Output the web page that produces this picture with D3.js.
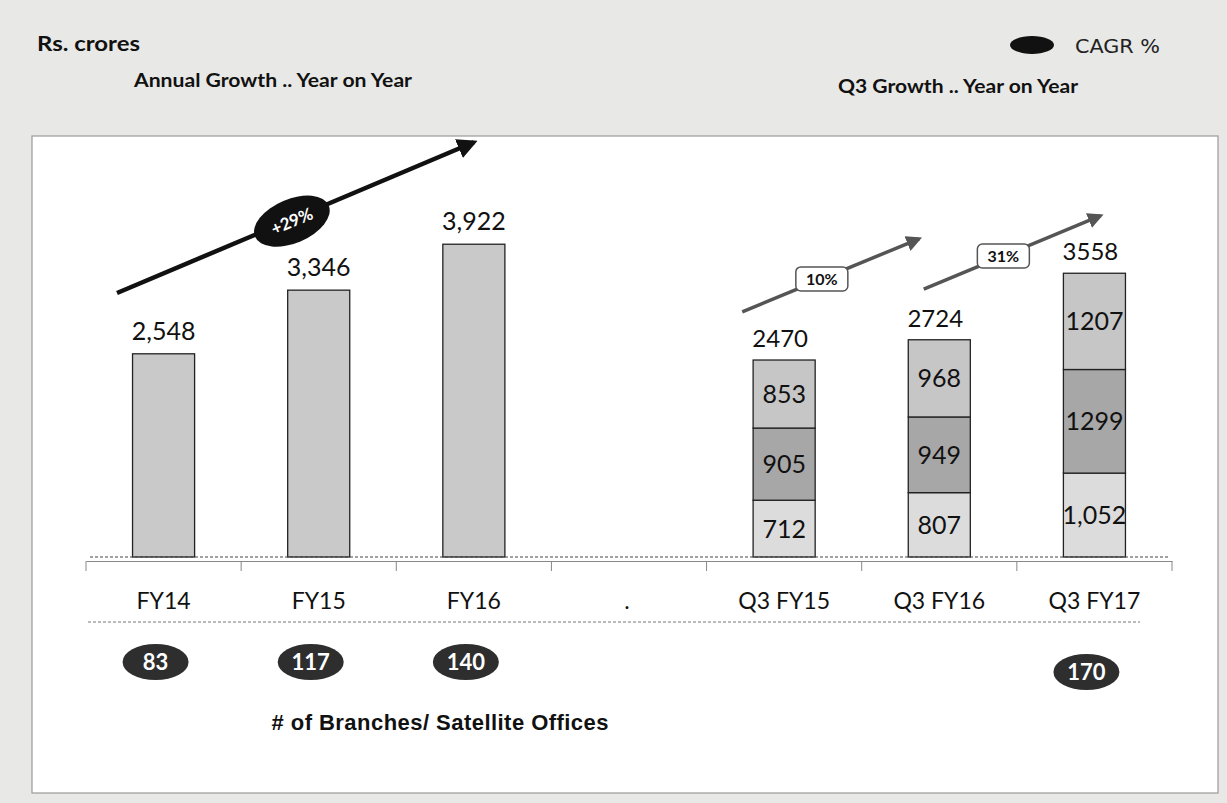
<!DOCTYPE html>
<html>
<head>
<meta charset="utf-8">
<script src="https://cdn.jsdelivr.net/npm/d3@7"></script>
<style>
  body { margin: 0; background: #e8e8e6; }
  svg { display: block; }
  .num { font-family: Lato, "Open Sans", sans-serif; fill: #111; }
  .head { font-family: Lato, "DejaVu Sans", sans-serif; font-weight: bold; fill: #111; }
</style>
</head>
<body>
<div id="chart"></div>
<script>
// categories on the x axis ("." is the empty spacer column)
const categories = ["FY14", "FY15", "FY16", ".", "Q3 FY15", "Q3 FY16", "Q3 FY17"];
// annual totals, Rs. crores
const annualCats = ["FY14", "FY15", "FY16"];
const annualValues = [2548, 3346, 3922];
// quarterly stacks, bottom -> top
const q3Cats = ["Q3 FY15", "Q3 FY16", "Q3 FY17"];
const q3Bottom = [712, 807, 1052];
const q3Middle = [905, 949, 1299];
const q3Top = [853, 968, 1207];
const q3Totals = [2470, 2724, 3558];
const q3BottomLabels = ["712", "807", "1,052"];
// number of branches / satellite offices
const branchCats = ["FY14", "FY15", "FY16", "Q3 FY17"];
const branchValues = [83, 117, 140, 170];
// growth arrows: start/end given as category + fraction of band + value
const growthArrows = [
  { label: "+29%", from: ["FY14", 0.2, 3310], to: ["FY16", 0.5, 5200], kind: "big" },
  { label: "10%", from: ["Q3 FY15", 0.23, 3075], to: ["Q3 FY16", 0.37, 3990], kind: "small" },
  { label: "31%", from: ["Q3 FY16", 0.4, 3360], to: ["Q3 FY17", 0.54, 4280], kind: "small" }
];

const W = 1227, H = 803;
const svg = d3.select("#chart").append("svg").attr("width", W).attr("height", H);

// page background and white panel
svg.append("rect").attr("width", W).attr("height", H).attr("fill", "#e8e8e6");
svg.append("rect").attr("x", 32).attr("y", 136).attr("width", 1186).attr("height", 657)
  .attr("fill", "#fff").attr("stroke", "#9a9a9a").attr("stroke-width", 1.2);

// headings
svg.append("text").attr("class", "head").attr("x", 37).attr("y", 51)
  .attr("textLength", 103).attr("lengthAdjust", "spacingAndGlyphs")
  .style("font-size", "21px").text("Rs. crores");
svg.append("text").attr("class", "head").attr("x", 134).attr("y", 87)
  .attr("textLength", 278).attr("lengthAdjust", "spacingAndGlyphs")
  .style("font-size", "19px").text("Annual Growth .. Year on Year");
svg.append("text").attr("class", "head").attr("x", 838).attr("y", 93)
  .attr("textLength", 240).attr("lengthAdjust", "spacingAndGlyphs")
  .style("font-size", "19px").text("Q3 Growth .. Year on Year");
svg.append("ellipse").attr("cx", 1032).attr("cy", 45).attr("rx", 22).attr("ry", 9).attr("fill", "#111");
svg.append("text").attr("x", 1075).attr("y", 53)
  .attr("textLength", 85).attr("lengthAdjust", "spacingAndGlyphs")
  .style("font-family", "'DejaVu Sans', sans-serif").style("font-size", "19px").attr("fill", "#222")
  .text("CAGR %");

const x = d3.scaleBand().domain(categories).range([86, 1172]);
const y = d3.scaleLinear().domain([0, 4000]).range([557, 238]);
const bw = x.bandwidth();
const barW = bw * 0.4;
const barX = c => x(c) + (bw - barW) / 2;
const mid = c => x(c) + bw / 2;

// x axis with ticks between categories
const axis = svg.append("g").attr("transform", "translate(0,561)")
  .call(d3.axisBottom(x).tickSize(0).tickFormat(""));
axis.select(".domain").attr("stroke", "#888").attr("stroke-width", 1);
axis.selectAll(".bnd").data(categories.concat(["end"])).join("line")
  .attr("x1", (d, i) => x.range()[0] + i * x.step()).attr("x2", (d, i) => x.range()[0] + i * x.step())
  .attr("y1", 0).attr("y2", 10).attr("stroke", "#888");

// annual bars
svg.append("g").selectAll("rect").data(annualCats).join("rect")
  .attr("x", d => barX(d)).attr("width", barW)
  .attr("y", (d, i) => y(annualValues[i])).attr("height", (d, i) => y(0) - y(annualValues[i]))
  .attr("fill", "#c9c9c9").attr("stroke", "#222").attr("stroke-width", 1.3);
svg.append("g").selectAll("text").data(annualCats).join("text").attr("class", "num")
  .attr("x", d => mid(d)).attr("y", (d, i) => y(annualValues[i]) - 14)
  .attr("text-anchor", "middle").style("font-size", "25px")
  .text((d, i) => d3.format(",")(annualValues[i]));

// stacked quarterly bars
const stackRows = q3Cats.map((c, i) => ({ cat: c, bottom: q3Bottom[i], middle: q3Middle[i], top: q3Top[i] }));
const keys = ["bottom", "middle", "top"];
const fills = { bottom: "#dcdcdc", middle: "#a7a7a7", top: "#c6c6c6" };
const series = d3.stack().keys(keys)(stackRows);
const sg = svg.append("g").selectAll("g").data(series).join("g").attr("fill", d => fills[d.key]);
sg.selectAll("rect").data(d => d).join("rect")
  .attr("x", d => barX(d.data.cat)).attr("width", barW)
  .attr("y", d => y(d[1])).attr("height", d => y(d[0]) - y(d[1]))
  .attr("stroke", "#222").attr("stroke-width", 1.3);
sg.selectAll("text").data(d => d.map(p => ({ p, key: d.key }))).join("text").attr("class", "num")
  .attr("x", d => mid(d.p.data.cat)).attr("y", d => (y(d.p[0]) + y(d.p[1])) / 2 + 9)
  .attr("text-anchor", "middle").style("font-size", "25px")
  .text(d => {
    const i = q3Cats.indexOf(d.p.data.cat);
    return d.key === "bottom" ? q3BottomLabels[i] : String(d.p.data[d.key]);
  });
svg.append("g").selectAll("text").data(q3Cats).join("text").attr("class", "num")
  .attr("x", d => mid(d) - 4).attr("y", (d, i) => y(q3Totals[i]) - 13)
  .attr("text-anchor", "middle").style("font-size", "24px")
  .text((d, i) => q3Totals[i]);

// dashed baseline
svg.append("line").attr("x1", 90).attr("x2", 1168).attr("y1", y(0)).attr("y2", y(0))
  .attr("stroke", "#444").attr("stroke-width", 1).attr("stroke-dasharray", "3,2");

// category labels
svg.append("g").selectAll("text").data(categories).join("text").attr("class", "num")
  .attr("x", d => mid(d) + (d === "." ? -2 : 0)).attr("y", 609)
  .attr("text-anchor", "middle").style("font-size", "23px").text(d => d);
svg.append("line").attr("x1", 88).attr("x2", 1140).attr("y1", 622).attr("y2", 622)
  .attr("stroke", "#777").attr("stroke-width", 1).attr("stroke-dasharray", "3,2");

// branch ovals
const bg = svg.append("g").selectAll("g").data(branchCats).join("g")
  .attr("transform", (d, i) => `translate(${mid(d) - 8},${d === "Q3 FY17" ? 672 : 662})`);
bg.append("ellipse").attr("rx", 33).attr("ry", 18).attr("fill", "#2e2e2e");
bg.append("text").attr("y", 8).attr("text-anchor", "middle").attr("fill", "#fff")
  .style("font-family", "Lato, sans-serif").style("font-weight", "bold").style("font-size", "22px")
  .text((d, i) => branchValues[i]);
svg.append("text").attr("x", 440).attr("y", 730).attr("text-anchor", "middle")
  .attr("textLength", 337)
  .style("font-family", "'Liberation Sans', Arial, sans-serif").style("font-weight", "bold")
  .style("font-size", "22px").attr("fill", "#111").text("# of Branches/ Satellite Offices");

// arrow markers
const defs = svg.append("defs");
[["big", "#111"], ["small", "#555"]].forEach(([k, col]) => {
  defs.append("marker").attr("id", "arr-" + k).attr("viewBox", "0 0 10 10")
    .attr("refX", 8).attr("refY", 5).attr("markerWidth", 4.5).attr("markerHeight", 4.5)
    .attr("orient", "auto").append("path").attr("d", "M0,0L10,5L0,10z").attr("fill", col);
});

// growth arrows with labels
growthArrows.forEach(a => {
  const x1 = x(a.from[0]) + a.from[1] * bw, y1 = y(a.from[2]);
  const x2 = x(a.to[0]) + a.to[1] * bw, y2 = y(a.to[2]);
  const big = a.kind === "big";
  svg.append("line").attr("x1", x1).attr("y1", y1).attr("x2", x2).attr("y2", y2)
    .attr("stroke", big ? "#111" : "#555").attr("stroke-width", big ? 4.5 : 3.5)
    .attr("marker-end", `url(#arr-${a.kind})`);
  const t = big ? 0.49 : 0.45;
  const mx = x1 + (x2 - x1) * t, my = y1 + (y2 - y1) * t;
  const ang = Math.atan2(y2 - y1, x2 - x1) * 180 / Math.PI;
  const g = svg.append("g").attr("transform", `translate(${mx},${my})`);
  if (big) {
    g.attr("transform", `translate(${mx},${my + 2}) rotate(${ang})`);
    g.append("ellipse").attr("rx", 40).attr("ry", 22).attr("fill", "#111");
    g.append("text").attr("y", 6).attr("text-anchor", "middle").attr("fill", "#fff")
      .style("font-family", "Lato, sans-serif").style("font-weight", "bold").style("font-size", "17px").text(a.label);
  } else {
    g.append("rect").attr("x", -26).attr("y", -12).attr("width", 52).attr("height", 24).attr("rx", 5)
      .attr("fill", "#fff").attr("stroke", "#555").attr("stroke-width", 1.5);
    g.append("text").attr("y", 6).attr("text-anchor", "middle").attr("fill", "#111")
      .style("font-family", "Lato, sans-serif").style("font-weight", "bold").style("font-size", "16px").text(a.label);
  }
});
</script>
</body>
</html>
